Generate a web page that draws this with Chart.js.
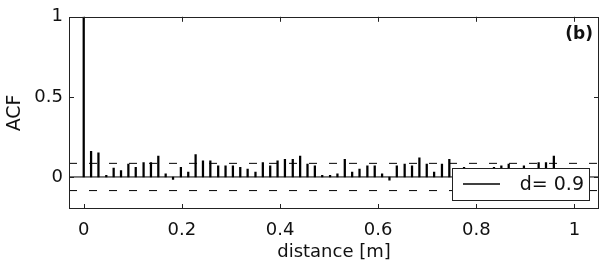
<!DOCTYPE html>
<html>
<head>
<meta charset="utf-8">
<script src="https://cdn.jsdelivr.net/npm/chart.js@4.4.0/dist/chart.umd.min.js"></script>
<style>
  html, body { margin: 0; padding: 0; background: #fff; }
  #wrap { width: 604px; height: 269px; }
</style>
</head>
<body>
<div id="wrap"><canvas id="acf" width="604" height="269"></canvas></div>
<script>
// ACF stem plot, panel (b).
const distances = [
  0, 0.015, 0.030, 0.046, 0.061, 0.076, 0.091, 0.106, 0.122, 0.137,
  0.152, 0.167, 0.182, 0.198, 0.213, 0.228, 0.243, 0.258, 0.274, 0.289,
  0.304, 0.319, 0.334, 0.350, 0.365, 0.380, 0.395, 0.410, 0.426, 0.441,
  0.456, 0.471, 0.486, 0.502, 0.517, 0.532, 0.547, 0.562, 0.578, 0.593,
  0.608, 0.623, 0.638, 0.654, 0.669, 0.684, 0.699, 0.714, 0.730, 0.745,
  0.760, 0.775, 0.790, 0.806, 0.821, 0.836, 0.851, 0.866, 0.882, 0.897,
  0.912, 0.927, 0.942, 0.958
];
const acfValues = [
  1.0, 0.16, 0.15, 0.01, 0.055, 0.04, 0.08, 0.06, 0.09, 0.09,
  0.13, 0.02, -0.015, 0.06, 0.03, 0.14, 0.10, 0.10, 0.07, 0.07,
  0.07, 0.06, 0.05, 0.03, 0.09, 0.07, 0.10, 0.11, 0.11, 0.13,
  0.08, 0.07, 0.01, 0.01, 0.02, 0.11, 0.03, 0.05, 0.07, 0.07,
  0.02, -0.02, 0.07, 0.08, 0.07, 0.12, 0.08, 0.03, 0.08, 0.11,
  0.04, 0.06, 0.03, 0.05, 0.02, 0.06, 0.07, 0.08, 0.04, 0.07,
  0.05, 0.09, 0.09, 0.13
];
const confLevel = 0.085;           // dashed bounds at +/- this
const xRange = [-0.03, 1.05];
const yRange = [-0.2, 1];
const xTickValues = [0, 0.2, 0.4, 0.6, 0.8, 1];
const yTickValues = [0, 0.5, 1];
const seriesLabel = "d= 0.9";
const panelTag = "(b)";

const FONT = "'DejaVu Sans', sans-serif";
Chart.defaults.font.family = FONT;
Chart.defaults.color = "#111";

const hline = (yv) => xRange.map(xv => ({ x: xv, y: yv }));

// box, inward ticks, in-plot legend and panel tag (MATLAB look)
const matlabFrame = {
  id: "matlabFrame",
  afterDatasetsDraw(chart) {
    const { ctx, chartArea: a, scales: { x, y } } = chart;
    ctx.save();

    // legend, bottom right inside the axes
    const lw = 137, lh = 32;
    const lx = a.right - 10 - lw, ly = a.bottom - 9 - lh;
    ctx.fillStyle = "#fff";
    ctx.fillRect(lx, ly, lw, lh);
    ctx.strokeStyle = "#222";
    ctx.lineWidth = 1;
    ctx.strokeRect(Math.round(lx) + 0.5, Math.round(ly) + 0.5, lw, lh);
    ctx.strokeStyle = "#000";
    ctx.lineWidth = 1.5;
    ctx.beginPath();
    ctx.moveTo(lx + 11, ly + lh / 2);
    ctx.lineTo(lx + 48, ly + lh / 2);
    ctx.stroke();
    ctx.fillStyle = "#111";
    ctx.font = "19px " + FONT;
    ctx.textAlign = "right";
    ctx.textBaseline = "middle";
    ctx.fillText(chart.data.datasets[0].label, lx + lw - 5, ly + lh / 2 + 1);

    // axes box
    ctx.strokeStyle = "#222";
    ctx.lineWidth = 1;
    ctx.strokeRect(Math.round(a.left) + 0.5, Math.round(a.top) + 0.5,
                   Math.round(a.right - a.left) - 1, Math.round(a.bottom - a.top) - 1);

    // inward ticks on all four sides
    const tl = 5;
    ctx.beginPath();
    for (const v of xTickValues) {
      const px = Math.round(x.getPixelForValue(v)) + 0.5;
      ctx.moveTo(px, a.bottom); ctx.lineTo(px, a.bottom - tl);
      ctx.moveTo(px, a.top); ctx.lineTo(px, a.top + tl);
    }
    for (const v of yTickValues) {
      const py = Math.round(y.getPixelForValue(v)) + 0.5;
      ctx.moveTo(a.left, py); ctx.lineTo(a.left + tl, py);
      ctx.moveTo(a.right, py); ctx.lineTo(a.right - tl, py);
    }
    ctx.stroke();

    // panel tag
    ctx.font = "bold 17px " + FONT;
    ctx.textAlign = "right";
    ctx.textBaseline = "middle";
    ctx.fillStyle = "#111";
    ctx.fillText(panelTag, a.right - 6, a.top + 18);
    ctx.restore();
  }
};

new Chart(document.getElementById("acf"), {
  type: "bar",
  data: {
    datasets: [
      {
        label: seriesLabel,
        data: distances.map((d, i) => ({ x: d, y: acfValues[i] })),
        backgroundColor: "#000",
        borderWidth: 0,
        barThickness: 1.6,
        order: 1,
      },
      {
        type: "line", label: "zero", data: hline(0),
        borderColor: "#000", borderWidth: 1, pointRadius: 0, order: 2,
      },
      {
        type: "line", label: "upper", data: hline(confLevel),
        borderColor: "#000", borderWidth: 1, borderDash: [8, 12], pointRadius: 0, order: 2,
      },
      {
        type: "line", label: "lower", data: hline(-confLevel),
        borderColor: "#000", borderWidth: 1, borderDash: [8, 12], pointRadius: 0, order: 2,
      },
    ],
  },
  options: {
    responsive: false,
    animation: false,
    layout: { padding: { top: 12, right: 5, left: 0, bottom: 0 } },
    plugins: { legend: { display: false }, tooltip: { enabled: false } },
    scales: {
      x: {
        type: "linear",
        min: xRange[0], max: xRange[1],
        offset: false,
        grid: { display: false, drawTicks: false },
        border: { display: false },
        afterBuildTicks: (s) => { s.ticks = xTickValues.map(v => ({ value: v })); },
        afterFit: (s) => { s.height = 60; },
        ticks: { padding: 11, font: { size: 18 }, color: "#111", callback: (v) => String(v), maxRotation: 0 },
        title: { display: true, text: "distance [m]", font: { size: 18 }, color: "#111", padding: { top: 0, bottom: 6 } },
      },
      y: {
        type: "linear",
        min: yRange[0], max: yRange[1],
        grid: { display: false, drawTicks: false },
        border: { display: false },
        afterBuildTicks: (s) => { s.ticks = yTickValues.map(v => ({ value: v })); },
        afterFit: (s) => { s.width = 69; },
        ticks: { padding: 6, font: { size: 18 }, color: "#111", callback: (v) => String(v) },
        title: { display: true, text: "ACF", font: { size: 19 }, color: "#111", padding: { top: 4, bottom: 0 } },
      },
    },
  },
  plugins: [matlabFrame],
});
</script>
</body>
</html>
